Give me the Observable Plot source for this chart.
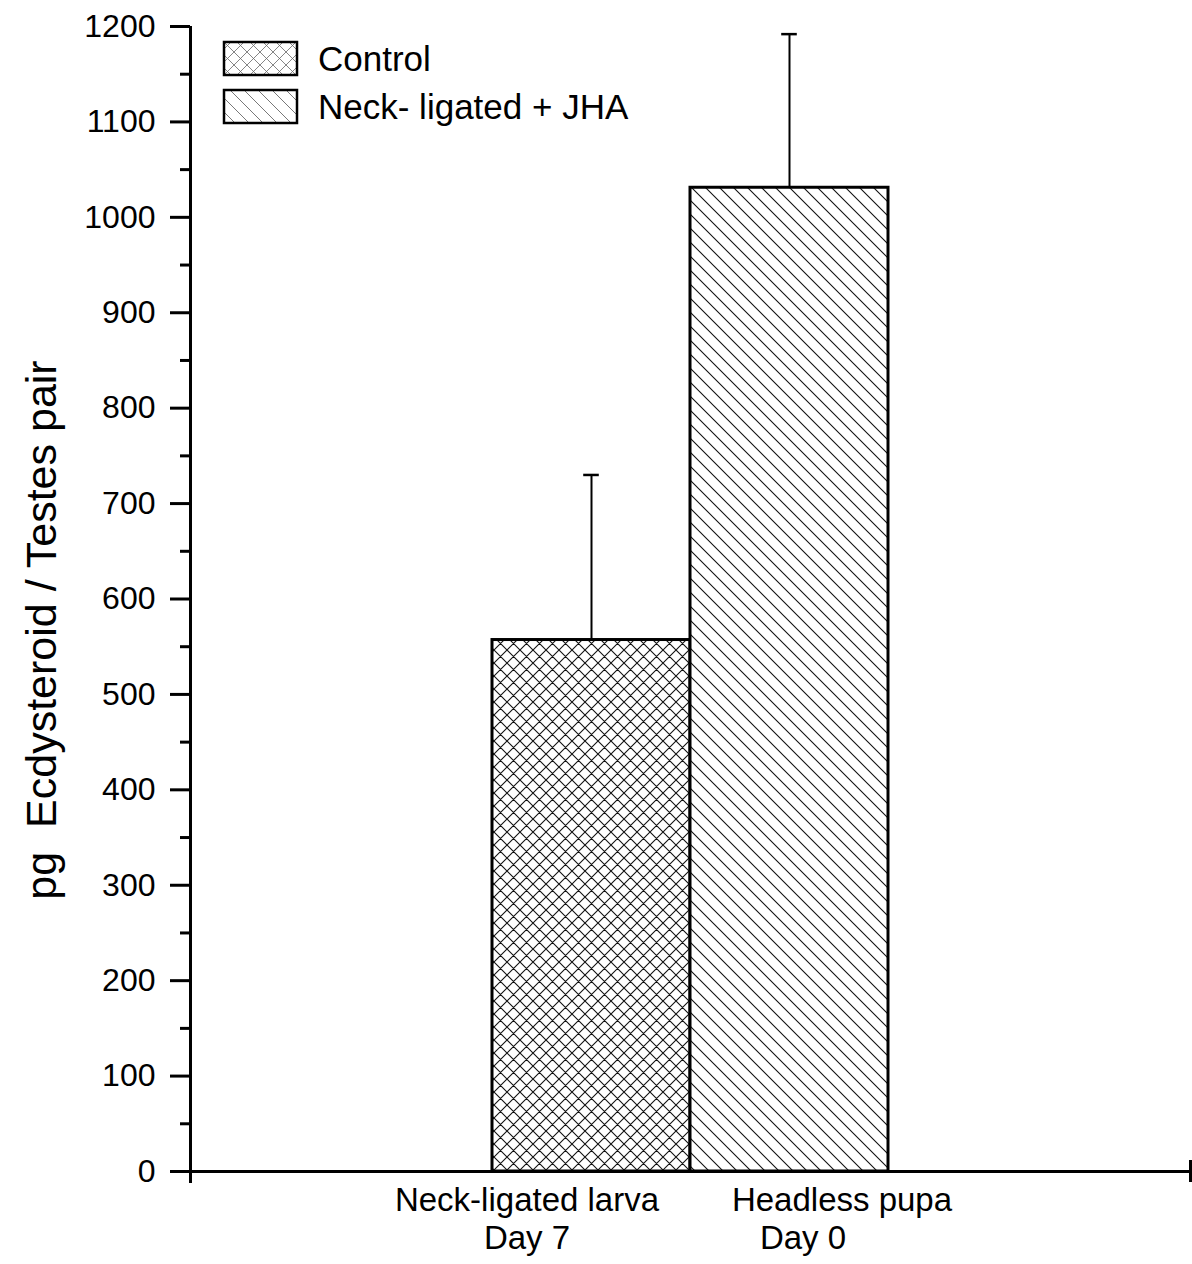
<!DOCTYPE html>
<html>
<head>
<meta charset="utf-8">
<script src="https://cdn.jsdelivr.net/npm/d3@7"></script>
<script src="https://cdn.jsdelivr.net/npm/@observablehq/plot@0.6"></script>
<style>
  body { margin: 0; background: #fff; }
  #chart svg { font-family: "Liberation Sans", Arial, Helvetica, sans-serif; }
</style>
</head>
<body>
<div id="chart"></div>
<script>
// ---- data ----
const series = ["Control", "Neck- ligated + JHA"];
const groupLabels = [["Neck-ligated larva", "Day 7"], ["Headless pupa", "Day 0"]];
const means = [557, 1031];
const errors = [173, 161];
const yMajorTicks = [0, 100, 200, 300, 400, 500, 600, 700, 800, 900, 1000, 1100, 1200];
const yMinorTicks = [50, 150, 250, 350, 450, 550, 650, 750, 850, 950, 1050, 1150];
const yTitle = "pg\u00a0\u00a0Ecdysteroid / Testes pair";

// ---- layout ----
const center = 5;      // bars sit side by side around the middle of the x range
const barW = 1.98;
const patterns = ["url(#xhatch)", "url(#dhatch)"];
const legendPatterns = ["url(#xhatch-l)", "url(#dhatch-l)"];
// horizontal anchor of each line of the category labels (x units)
const labelX = [[3.37, 3.37], [6.52, 6.13]];

const rows = series.map((s, i) => ({
  series: s,
  mean: means[i],
  top: means[i] + errors[i],
  x1: center + (i - 1) * barW,
  x2: center + i * barW,
  mid: center + (i - 0.5) * barW
}));

// pattern definitions for the bar fills
function defs() {
  const g = d3.create("svg:defs");
  const mk = (id, size, paths, stroke, width) => {
    const p = g.append("pattern")
      .attr("id", id)
      .attr("patternUnits", "userSpaceOnUse")
      .attr("width", size)
      .attr("height", size);
    p.append("rect").attr("width", size).attr("height", size).attr("fill", "white");
    p.append("path").attr("d", paths).attr("stroke", stroke)
      .attr("stroke-width", width).attr("fill", "none");
  };
  const cross = s => `M0,0L${s},${s}M${s},0L0,${s}M${-s/2},${s/2}L${s/2},${s*1.5}M${s/2},${-s/2}L${s*1.5},${s/2}M${s/2},${s*1.5}L${s*1.5},${s/2}M${-s/2},${s/2}L${s/2},${-s/2}`;
  const diag = s => `M0,0L${s},${s}M${-s/2},${s/2}L${s/2},${s*1.5}M${s/2},${-s/2}L${s*1.5},${s/2}`;
  mk("xhatch", 13, cross(13), "#111", 1.1);
  mk("dhatch", 14, diag(14), "#111", 1.1);
  mk("xhatch-l", 13, cross(13), "#666", 0.8);
  mk("dhatch-l", 14, diag(14), "#555", 0.8);
  return g.node();
}

// legend drawn inside the plotting area, top left
function legend() {
  const g = d3.create("svg:g");
  series.forEach((s, i) => {
    const y = 42 + i * 48;
    g.append("rect")
      .attr("x", 224).attr("y", y).attr("width", 73).attr("height", 33)
      .attr("fill", legendPatterns[i]).attr("stroke", "black").attr("stroke-width", 2.5);
    g.append("text")
      .attr("x", 318).attr("y", y + 16.5).attr("dy", "0.36em")
      .attr("text-anchor", "start")
      .attr("font-size", 35).attr("fill", "black")
      .text(s);
  });
  return g.node();
}

// two-line category labels under the x axis, one text element per group
function categoryLabels(index, scales, values, dimensions) {
  const g = d3.create("svg:g");
  const base = dimensions.height - dimensions.marginBottom;
  groupLabels.forEach((lines, i) => {
    const t = g.append("text")
      .attr("text-anchor", "middle")
      .attr("font-size", 33)
      .attr("fill", "black");
    lines.forEach((line, j) => {
      t.append("tspan")
        .attr("x", scales.x(labelX[i][j]))
        .attr("y", base + 40 + j * 38)
        .text(line);
    });
  });
  return g.node();
}

const chart = Plot.plot({
  width: 1192,
  height: 1264,
  marginLeft: 190,
  marginRight: 2,
  marginTop: 26,
  marginBottom: 93,
  x: {domain: [0, 10], axis: null},
  y: {domain: [0, 1200], axis: null},
  style: {background: "white", color: "black", fontFamily: "Liberation Sans, Arial, sans-serif"},
  marks: [
    defs,
    // bars
    ...rows.map((r, i) => Plot.rect([r], {
      x1: "x1", x2: "x2", y1: 0, y2: "mean",
      fill: patterns[i], stroke: "black", strokeWidth: 3
    })),
    // error bars
    Plot.ruleX(rows, {x: "mid", y1: "mean", y2: "top", stroke: "black", strokeWidth: 2}),
    Plot.ruleY(rows, {y: "top", x1: d => d.mid - 0.078, x2: d => d.mid + 0.078, stroke: "black", strokeWidth: 2.5}),
    // y axis
    Plot.axisY({ticks: yMajorTicks, tickSize: 20, tickPadding: 15, fontSize: 32, strokeWidth: 3, tickFormat: d => String(d), label: null}),
    Plot.axisY({ticks: yMinorTicks, tickSize: 10, text: null, strokeWidth: 3, label: null}),
    Plot.ruleX([0], {stroke: "black", strokeWidth: 3}),
    // x axis line and end ticks
    Plot.ruleY([0], {stroke: "black", strokeWidth: 3}),
    Plot.ruleX([0], {y1: 0, y2: 0, insetBottom: -12, stroke: "black", strokeWidth: 3}),
    Plot.ruleX([10], {y1: 0, y2: 0, insetTop: -11, insetBottom: -11, stroke: "black", strokeWidth: 3}),
    categoryLabels,
    // y axis title
    Plot.text([yTitle], {
      frameAnchor: "left", rotate: -90, dx: -148, dy: 31,
      fontSize: 43, fill: "black", textAnchor: "middle", lineAnchor: "middle"
    }),
    legend
  ]
});

document.getElementById("chart").append(chart);
</script>
</body>
</html>
